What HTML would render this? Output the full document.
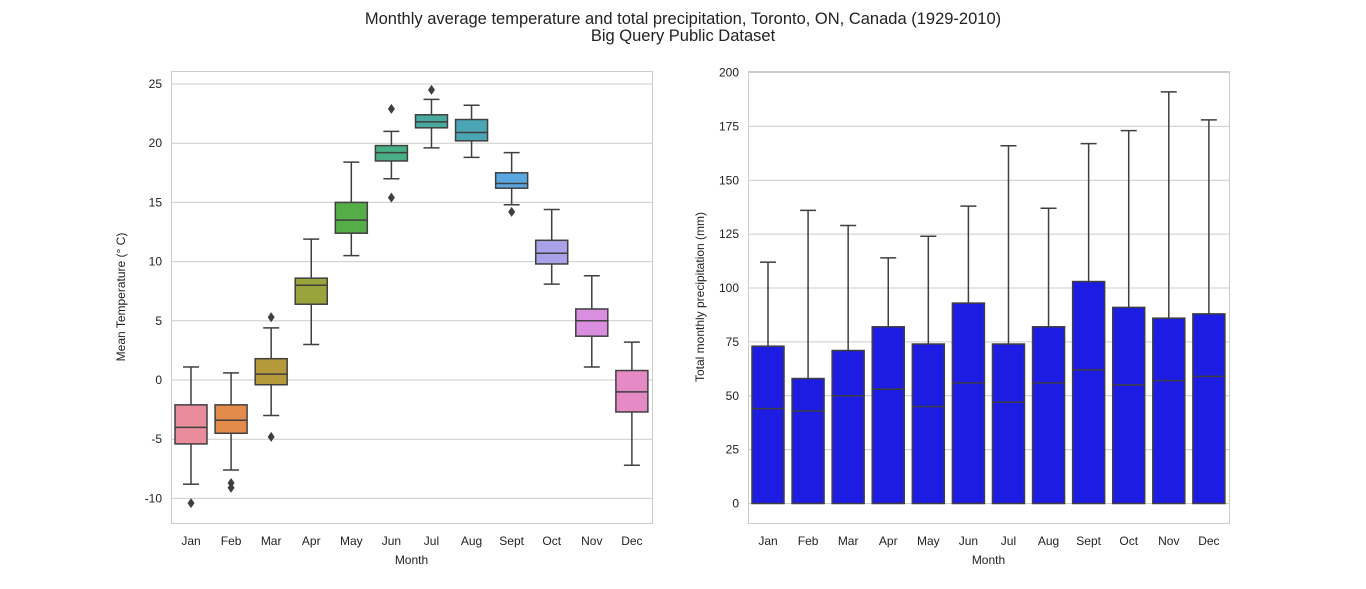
<!DOCTYPE html>
<html><head><meta charset="utf-8"><style>
body{margin:0;background:#fff;}
svg{display:block;font-family:"Liberation Sans",Arial,sans-serif;}
</style></head><body>
<svg id="c" width="1366" height="589">
<text x="683" y="24" text-anchor="middle" font-size="16.5" fill="#222">Monthly average temperature and total precipitation, Toronto, ON, Canada (1929-2010)</text>
<text x="683" y="41" text-anchor="middle" font-size="16.5" fill="#222">Big Query Public Dataset</text>
</svg>
<script>
const months=["Jan","Feb","Mar","Apr","May","Jun","Jul","Aug","Sept","Oct","Nov","Dec"];
const tLow=[-8.8,-7.6,-3.0,3.0,10.5,17.0,19.6,18.8,14.8,8.1,1.1,-7.2];
const tQ1=[-5.4,-4.5,-0.4,6.4,12.4,18.5,21.3,20.2,16.2,9.8,3.7,-2.7];
const tMed=[-4.0,-3.4,0.5,8.0,13.5,19.2,21.8,20.9,16.6,10.7,5.0,-1.0];
const tQ3=[-2.1,-2.1,1.8,8.6,15.0,19.8,22.4,22.0,17.5,11.8,6.0,0.8];
const tHigh=[1.1,0.6,4.4,11.9,18.4,21.0,23.7,23.2,19.2,14.4,8.8,3.2];
const tOut=[[-10.4],[-8.7,-9.1],[5.3,-4.8],[],[],[22.9,15.4],[24.5],[],[14.2],[],[],[]];
const tTicks=[-10,-5,0,5,10,15,20,25];
const pQ3=[73,58,71,82,74,93,74,82,103,91,86,88];
const pMed=[44,43,50,53,45,56,47,56,62,55,57,59];
const pHigh=[112,136,129,114,124,138,166,137,167,173,191,178];
const pTicks=[0,25,50,75,100,125,150,175,200];
const colors=["#e98d9c","#e38b4a","#b59a3c","#9aa43c","#55ad48","#47ae86","#48aa9e","#4aa5b4","#5aa6e0","#a9a2e8","#da8ee0","#e58ac4"];
const NS="http://www.w3.org/2000/svg",svg=document.getElementById('c');
function el(t,a,txt){const e=document.createElementNS(NS,t);for(const k in a)e.setAttribute(k,a[k]);if(txt!==undefined)e.textContent=txt;svg.appendChild(e);return e;}
const L={x0:171,x1:652,y0:71,y1:523},R={x0:748,x1:1229,y0:71,y1:523};
const ly=v=>380-v*11.84, ry=v=>503.5-v*2.155;
const lx=i=>L.x0+20+i*40.08, rx=i=>R.x0+20+i*40.08;
function axes(A,ticks,yf,prefix,ylabel,off){
  ticks.forEach(t=>{const g=el('line',{x1:A.x0,x2:A.x1,y1:yf(t),y2:yf(t),stroke:'#cccccc','stroke-width':1});
    
    const tx=el('text',{x:A.x0-9,y:yf(t)+4,'text-anchor':'end','font-size':12,fill:'#222'},String(t));
    });
  const f=el('rect',{x:A.x0+.5,y:A.y0+.5,width:A.x1-A.x0,height:A.y1-A.y0,fill:'none',stroke:'#cccccc'});
  
  months.forEach((m,i)=>{const t=el('text',{x:A.x0+20+i*40.08,y:545,'text-anchor':'middle','font-size':12,fill:'#222'},m);
    });
  const xl=el('text',{x:(A.x0+A.x1)/2,y:564,'text-anchor':'middle','font-size':12,fill:'#222'},'Month');
  
  const cy=(A.y0+A.y1)/2,cx=A.x0-off;
  const yl=el('text',{x:cx,y:cy,'text-anchor':'middle','font-size':12,fill:'#222',transform:`rotate(-90 ${cx} ${cy})`},ylabel);
  
}
axes(L,tTicks,ly,'temp','Mean Temperature (° C)',46);
axes(R,pTicks,ry,'precip','Total monthly precipitation (mm)',44);
const st='#3f3f3f';
months.forEach((m,i)=>{
  const c=lx(i),w=16;
  const a=el('line',{x1:c,x2:c,y1:ly(tHigh[i]),y2:ly(tQ3[i]),stroke:st,'stroke-width':1.5});
  const b=el('line',{x1:c,x2:c,y1:ly(tQ1[i]),y2:ly(tLow[i]),stroke:st,'stroke-width':1.5});
  [tHigh[i],tLow[i]].forEach(v=>{const k=el('line',{x1:c-8,x2:c+8,y1:ly(v),y2:ly(v),stroke:st,'stroke-width':1.5});});
  const r=el('rect',{x:c-w,y:ly(tQ3[i]),width:2*w,height:ly(tQ1[i])-ly(tQ3[i]),fill:colors[i],stroke:st,'stroke-width':1.5});
  
  const md=el('line',{x1:c-w,x2:c+w,y1:ly(tMed[i]),y2:ly(tMed[i]),stroke:st,'stroke-width':1.5});
  tOut[i].forEach(v=>{const y=ly(v);const o=el('polygon',{points:`${c},${y-5} ${c+3.5},${y} ${c},${y+5} ${c-3.5},${y}`,fill:st});});
  const p=rx(i);
  const pw=el('line',{x1:p,x2:p,y1:ry(pHigh[i]),y2:ry(pQ3[i]),stroke:st,'stroke-width':1.5});
  const pc=el('line',{x1:p-8,x2:p+8,y1:ry(pHigh[i]),y2:ry(pHigh[i]),stroke:st,'stroke-width':1.5});
  const pr=el('rect',{x:p-w,y:ry(pQ3[i]),width:2*w,height:ry(0)-ry(pQ3[i]),fill:'#1c1ce3',stroke:st,'stroke-width':1.5});
  
  const pm=el('line',{x1:p-w,x2:p+w,y1:ry(pMed[i]),y2:ry(pMed[i]),stroke:st,'stroke-width':1.5});
});
</script>
</body></html>
